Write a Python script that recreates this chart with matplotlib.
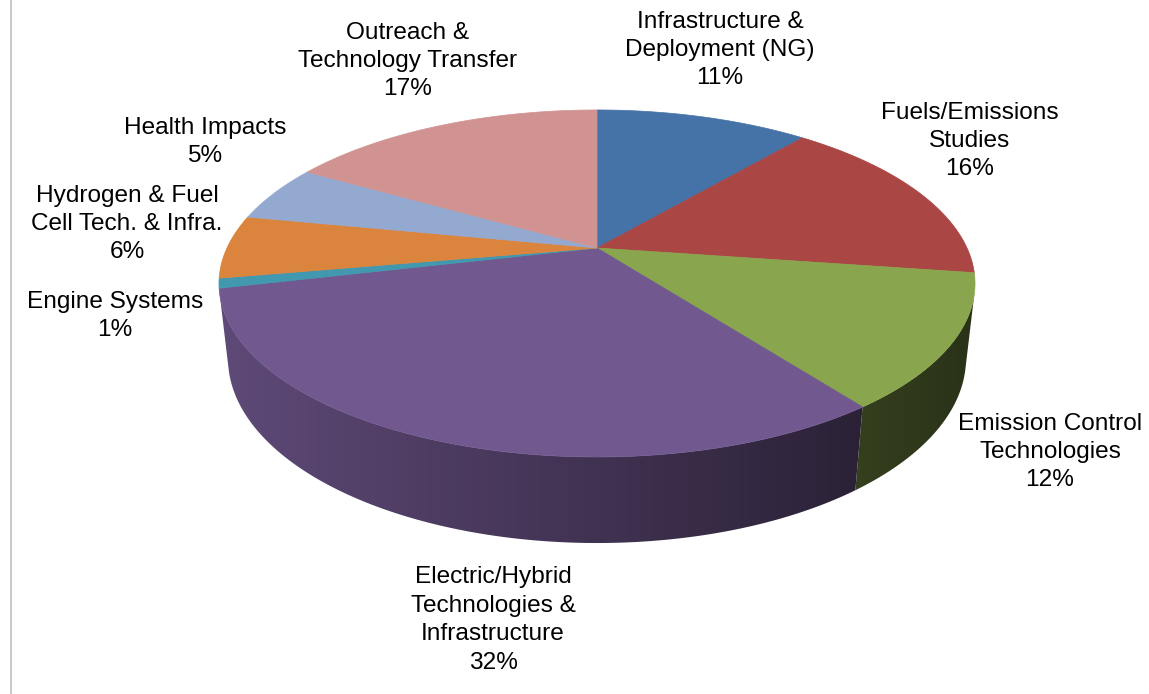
import numpy as np
import matplotlib.pyplot as plt
from matplotlib.patches import Polygon
from matplotlib.colors import to_rgb

# slices, clockwise from 12 o'clock (shares, labels show rounded %)
labels = ['Infrastructure &\nDeployment (NG)',
          'Fuels/Emissions\nStudies',
          'Emission Control\nTechnologies',
          'Electric/Hybrid\nTechnologies &\nInfrastructure',
          'Engine Systems',
          'Hydrogen & Fuel\nCell Tech. & Infra.',
          'Health Impacts',
          'Outreach &\nTechnology Transfer']
values = [11.1, 16.2, 12.45, 31.55, 0.9, 5.9, 5.3, 16.6]
colors = ['#4572A7', '#AA4643', '#89A54E', '#71588F',
          '#4198AF', '#DB843D', '#93A9CF', '#D19392']

# where the labels sit (pixel coords)
label_pos = [(720, 50), (970, 141), (1050, 452), (493, 620),
             (115, 316), (127, 224), (205, 142), (408, 61)]

# fake 3d camera for the pie
cx, cy = 597, 248
scale = 1617
dist = 4.37
tilt = np.radians(26.7)
depth = 0.228


def project(t, z):
    x = np.sin(t)
    y = np.cos(t)
    den = dist + y * np.cos(tilt) - z * np.sin(tilt)
    u = x / den
    v = (y * np.sin(tilt) + z * np.cos(tilt)) / den
    return cx + scale * u, cy - scale * v


fig = plt.figure(figsize=(11.49, 6.94), dpi=100)
ax = fig.add_axes([0, 0, 1, 1])

total = sum(values)
edges = np.concatenate([[0], np.cumsum(values)]) / total * 2 * np.pi

# visible part of the outer wall
tmin = np.arccos(-1 / (dist * np.cos(tilt)))
tmax = 2 * np.pi - tmin

# side walls with a left-to-right darkening gradient
gx = np.linspace(180, 1010, 400)
fac = 0.57 - 0.27 * np.clip((gx - cx) / 380, -1, 1)
for i in range(len(values)):
    a0 = max(edges[i], tmin)
    a1 = min(edges[i + 1], tmax)
    if a1 <= a0:
        continue
    tt = np.linspace(a0, a1, 200)
    xt, yt = project(tt, 0)
    xb, yb = project(tt[::-1], -depth)
    pts = np.column_stack([np.concatenate([xt, xb]), np.concatenate([yt, yb])])
    clip = Polygon(pts, closed=True, facecolor='none', edgecolor='none')
    ax.add_patch(clip)
    img = np.clip(np.array(to_rgb(colors[i]))[None, None, :] * fac[None, :, None], 0, 1)
    im = ax.imshow(img, extent=[gx[0], gx[-1], 600, 200], aspect='auto',
                   interpolation='bilinear')
    im.set_clip_path(clip)

# top faces
for i in range(len(values)):
    tt = np.linspace(edges[i], edges[i + 1], 200)
    xr, yr = project(tt, 0)
    pts = np.column_stack([np.concatenate([[cx], xr]), np.concatenate([[cy], yr])])
    ax.add_patch(Polygon(pts, closed=True, facecolor=colors[i], edgecolor=colors[i], lw=0.5))

# labels
for i in range(len(values)):
    ax.text(label_pos[i][0], label_pos[i][1],
            labels[i] + '\n%d%%' % int(values[i] / total * 100 + 0.5),
            ha='center', va='center', multialignment='center',
            fontsize=17.6, family=['Liberation Sans', 'DejaVu Sans'],
            color='black', linespacing=1.38)

# thin frame line on the left
ax.plot([10.5, 10.5], [0, 694], color='#c0c0c0', lw=1.2)

ax.set_xlim(0, 1149)
ax.set_ylim(694, 0)
ax.axis('off')

fig.savefig('out.png', dpi=100)
